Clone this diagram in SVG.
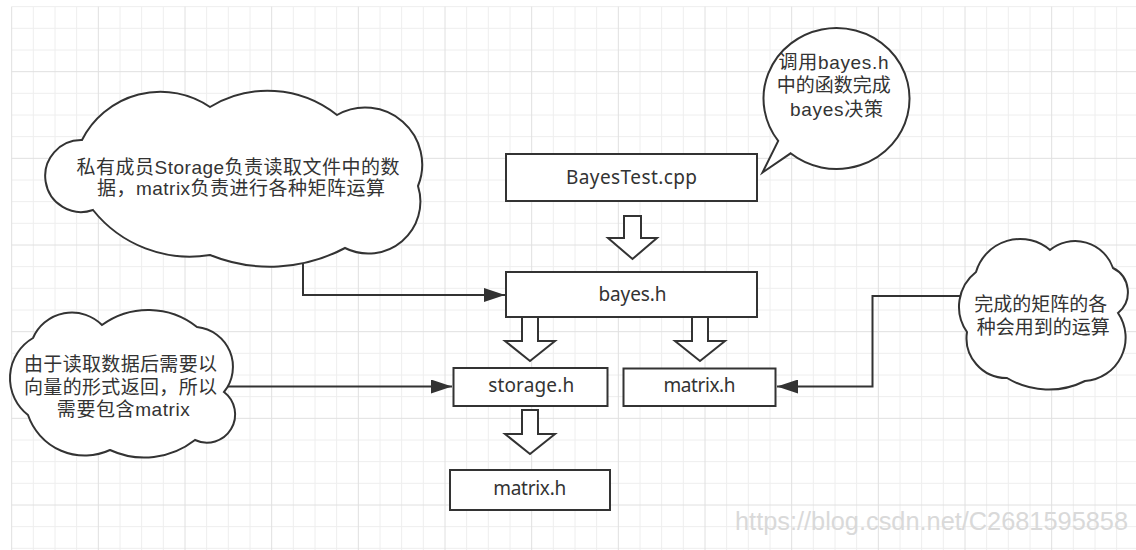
<svg xmlns="http://www.w3.org/2000/svg" width="1136" height="550" viewBox="0 0 1136 550">
  <defs>
    <style>
      .grid-minor { fill: none; stroke: #eeeeee; stroke-width: 1; }
      .grid-major { fill: none; stroke: #e0e0e0; stroke-width: 1; }
      .shape { fill: #ffffff; stroke: #333333; stroke-width: 2; }
      .wire { fill: none; stroke: #333333; stroke-width: 2; }
      .label { font-family: "Noto Sans", "Noto Sans CJK SC", sans-serif; font-size: 19px; fill: #333333; text-anchor: middle; }
      .note { font-family: "Liberation Sans", "Noto Sans CJK SC", sans-serif; font-size: 19px; fill: #333333; text-anchor: middle; }
      .mark { font-family: "Liberation Sans", Arial, sans-serif; font-size: 25px; fill: #d9d9d9; }
    </style>
    <marker id="arrow" markerUnits="userSpaceOnUse" markerWidth="21" markerHeight="14" refX="21" refY="7" orient="auto">
      <path d="M0,0 L21,7 L0,14 Z" fill="#333333"/>
    </marker>
  </defs>

  <!-- background grid -->
  <rect width="1136" height="550" fill="#ffffff"/>
  <g id="grid">
    <path class="grid-minor" d="M33.33 6.67V550M55 6.67V550M76.67 6.67V550M120 6.67V550M141.67 6.67V550M163.33 6.67V550M206.67 6.67V550M228.33 6.67V550M250 6.67V550M293.33 6.67V550M315 6.67V550M336.67 6.67V550M380 6.67V550M401.67 6.67V550M423.33 6.67V550M466.67 6.67V550M488.33 6.67V550M510 6.67V550M553.33 6.67V550M575 6.67V550M596.67 6.67V550M640 6.67V550M661.67 6.67V550M683.33 6.67V550M726.67 6.67V550M748.33 6.67V550M770 6.67V550M813.33 6.67V550M835 6.67V550M856.67 6.67V550M900 6.67V550M921.67 6.67V550M943.33 6.67V550M986.67 6.67V550M1008.33 6.67V550M1030 6.67V550M1073.33 6.67V550M1095 6.67V550M1116.67 6.67V550"/>
    <path class="grid-minor" d="M11.67 6.67H1136M11.67 28.33H1136M11.67 50H1136M11.67 93.33H1136M11.67 115H1136M11.67 136.67H1136M11.67 180H1136M11.67 201.67H1136M11.67 223.33H1136M11.67 266.67H1136M11.67 288.33H1136M11.67 310H1136M11.67 353.33H1136M11.67 375H1136M11.67 396.67H1136M11.67 440H1136M11.67 461.67H1136M11.67 483.33H1136M11.67 526.67H1136M11.67 548.33H1136"/>
    <path class="grid-major" d="M11.67 6.67V550M98.33 6.67V550M185 6.67V550M271.67 6.67V550M358.33 6.67V550M445 6.67V550M531.67 6.67V550M618.33 6.67V550M705 6.67V550M791.67 6.67V550M878.33 6.67V550M965 6.67V550M1051.67 6.67V550"/>
    <path class="grid-major" d="M11.67 71.67H1136M11.67 158.33H1136M11.67 245H1136M11.67 331.67H1136M11.67 418.33H1136M11.67 505H1136"/>
  </g>

  <!-- connectors -->
  <g id="connectors">
    <path class="wire" d="M303 264V295H505" marker-end="url(#arrow)"/>
    <path class="wire" d="M226 386.5H452" marker-end="url(#arrow)"/>
    <path class="wire" d="M961 296H872.5V386.5H777" marker-end="url(#arrow)"/>
    <!-- hollow block arrows -->
    <polygon class="shape" points="624,216 641,216 641,238 657,238 632.5,259 608,238 624,238"/>
    <polygon class="shape" points="522,317 538,317 538,341 555,341 530,361 505,341 522,341"/>
    <polygon class="shape" points="692,317 708,317 708,341 725,341 700,361 675,341 692,341"/>
    <polygon class="shape" points="522,410 538,410 538,434 555,434 530,454 505,434 522,434"/>
  </g>

  <!-- cloud note: private members -->
  <g id="note-members">
    <path class="shape" d="M82 140A88 88 0 0 1 210 107A111 111 0 0 1 337 115A57 57 0 0 1 418 186A52 52 0 0 1 345 248A160 160 0 0 1 210 255A124 124 0 0 1 93 210A36 36 0 1 1 82 140Z"/>
    <text class="note">
      <tspan x="241" y="173.5" textLength="323" lengthAdjust="spacing">私有成员Storage负责读取文件中的数</tspan>
      <tspan x="241" y="195" textLength="288" lengthAdjust="spacing">据，matrix负责进行各种矩阵运算</tspan>
    </text>
  </g>

  <!-- speech bubble note -->
  <g id="note-test">
    <path class="shape" d="M790.6 153.3A73 70.5 0 1 0 778.2 140.9L762.5 172.5Z"/>
    <text class="note">
      <tspan x="836.5" y="69" textLength="110" lengthAdjust="spacing">调用bayes.h</tspan>
      <tspan x="836.5" y="92.3" textLength="114" lengthAdjust="spacing">中的函数完成</tspan>
      <tspan x="836.5" y="115.5" textLength="93" lengthAdjust="spacing">bayes决策</tspan>
    </text>
  </g>

  <!-- cloud note: storage returns vectors -->
  <g id="note-storage">
    <path class="shape" d="M33 338A42.5 42.5 0 0 1 102 325A78.5 78.5 0 0 1 197 327A40 40 0 0 1 224 392A28.2 28.2 0 0 1 195 440A82 82 0 0 1 110 450A60 60 0 0 1 28 415A46.6 46.6 0 0 1 33 338Z"/>
    <text class="note">
      <tspan x="123.3" y="371" textLength="193" lengthAdjust="spacing">由于读取数据后需要以</tspan>
      <tspan x="123.3" y="393.7" textLength="193" lengthAdjust="spacing">向量的形式返回，所以</tspan>
      <tspan x="123.3" y="416.3" textLength="133" lengthAdjust="spacing">需要包含matrix</tspan>
    </text>
  </g>

  <!-- cloud note: matrix operations -->
  <g id="note-matrix">
    <path class="shape" d="M976 272A46 46 0 0 1 1050 250A40 40 0 0 1 1113 268A27 27 0 0 1 1118 313A43.5 43.5 0 0 1 1085 381A81 81 0 0 1 1007 378A40 40 0 0 1 967 332A44 44 0 0 1 976 272Z"/>
    <text class="note">
      <tspan x="1043.3" y="311" textLength="133" lengthAdjust="spacing">完成的矩阵的各</tspan>
      <tspan x="1043.3" y="333.5" textLength="133" lengthAdjust="spacing">种会用到的运算</tspan>
    </text>
  </g>

  <!-- file nodes -->
  <g id="bayestest-cpp">
    <rect class="shape" x="506" y="154" width="251" height="47"/>
    <text class="label" x="631.5" y="183.5" textLength="131" lengthAdjust="spacing">BayesTest.cpp</text>
  </g>
  <g id="bayes-h">
    <rect class="shape" x="506" y="272" width="251" height="45"/>
    <text class="label" x="632.5" y="300.5" textLength="68" lengthAdjust="spacing">bayes.h</text>
  </g>
  <g id="storage-h">
    <rect class="shape" x="453.5" y="368" width="154" height="38"/>
    <text class="label" x="531.2" y="392" textLength="86" lengthAdjust="spacing">storage.h</text>
  </g>
  <g id="matrix-h">
    <rect class="shape" x="623.5" y="368.5" width="152" height="37.5"/>
    <text class="label" x="699.5" y="392" textLength="72" lengthAdjust="spacing">matrix.h</text>
  </g>
  <g id="storage-matrix-h">
    <rect class="shape" x="450" y="470" width="160" height="40"/>
    <text class="label" x="529.7" y="495" textLength="73" lengthAdjust="spacing">matrix.h</text>
  </g>

  <text class="mark" x="735" y="530" textLength="393" lengthAdjust="spacingAndGlyphs">https://blog.csdn.net/C2681595858</text>
</svg>
